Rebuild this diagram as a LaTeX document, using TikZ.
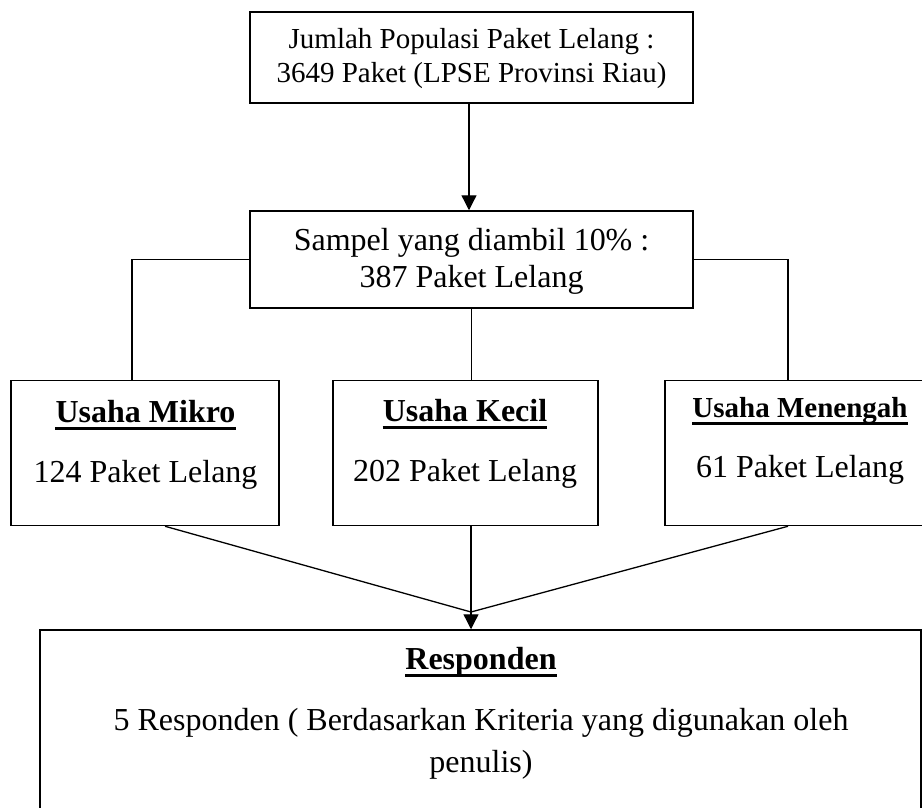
\documentclass[tikz,border=0pt]{standalone}
\usepackage{fontspec}
\setmainfont{Liberation Serif}
\usetikzlibrary{arrows.meta}
\begin{document}
\begin{tikzpicture}[x=1pt,y=-1pt,
  box/.style={draw,line width=1.5pt,rectangle,inner sep=0pt},
  conn/.style={line width=1.3pt},
  arr/.style={line width=1.3pt,-{Triangle[width=15pt,length=15pt]}},
  txt/.style={inner sep=0pt,anchor=base,font=\fontsize{32}{38}\selectfont},
  txts/.style={inner sep=0pt,anchor=base,font=\fontsize{29}{34}\selectfont},
  ttl/.style={inner sep=0pt,anchor=base,font=\fontsize{32}{38}\selectfont\bfseries},
  ttls/.style={inner sep=0pt,anchor=base,font=\fontsize{29}{34}\selectfont\bfseries},
  ul/.style={line width=3pt}]
\useasboundingbox (0,0) rectangle (922,807);
% boxes
\node[box,minimum width=443pt,minimum height=91pt] (pop) at (471.5,57.5) {};
\node[box,minimum width=443pt,minimum height=97pt] (samp) at (471.5,259.5) {};
\node[box,minimum width=268pt,minimum height=145pt] (mikro) at (145,453) {};
\node[box,minimum width=265pt,minimum height=145pt] (kecil) at (465.5,453) {};
\node[box,minimum width=270pt,minimum height=145pt] (menengah) at (800,453) {};
\node[box,minimum width=881pt,minimum height=220pt] (resp) at (480.5,740) {};
% texts
\node[txts] (t1a) at (471.5,48) {Jumlah Populasi Paket Lelang :};
\node[txts] (t1b) at (471.5,82) {3649 Paket (LPSE Provinsi Riau)};
\node[txt] (t2a) at (471.5,250) {Sampel yang diambil 10\% :};
\node[txt] (t2b) at (471.5,287) {387 Paket Lelang};
\node[ttl] (tm) at (145.5,422) {Usaha Mikro};
\node[txt] (tm2) at (145.5,482) {124 Paket Lelang};
\node[ttl] (tk) at (465,421) {Usaha Kecil};
\node[txt] (tk2) at (465,481) {202 Paket Lelang};
\node[ttls] (tn) at (800,417) {Usaha Menengah};
\node[txt] (tn2) at (800,477) {61 Paket Lelang};
\node[ttl] (tr) at (481,669) {Responden};
\node[txt] (tr2) at (481,730) {5 Responden ( Berdasarkan Kriteria yang digunakan oleh};
\node[txt] (tr3) at (481,772) {penulis)};
% underlines
\foreach \n in {tm,tk,tn,tr}{
  \draw[ul] ([yshift=-6pt]\n.base west) -- ([yshift=-6pt]\n.base east);
}
% connectors
\draw[arr] (pop.south -| 469,0) -- (samp.north -| 469,0);
\draw[conn] (samp.west) -| ([xshift=-13pt]mikro.north);
\draw[conn] (samp.east) -| ([xshift=-12pt]menengah.north);
\draw[conn] (samp.south) -- (samp.south |- kecil.north);
\coordinate (conv) at (471,612);
\draw[conn] ([xshift=20pt]mikro.south) -- (conv);
\draw[conn] ([xshift=5.5pt]kecil.south) -- (conv);
\draw[conn] ([xshift=-12pt]menengah.south) -- (conv);
\draw[arr] (conv) -- (conv |- resp.north);
\end{tikzpicture}
\end{document}
